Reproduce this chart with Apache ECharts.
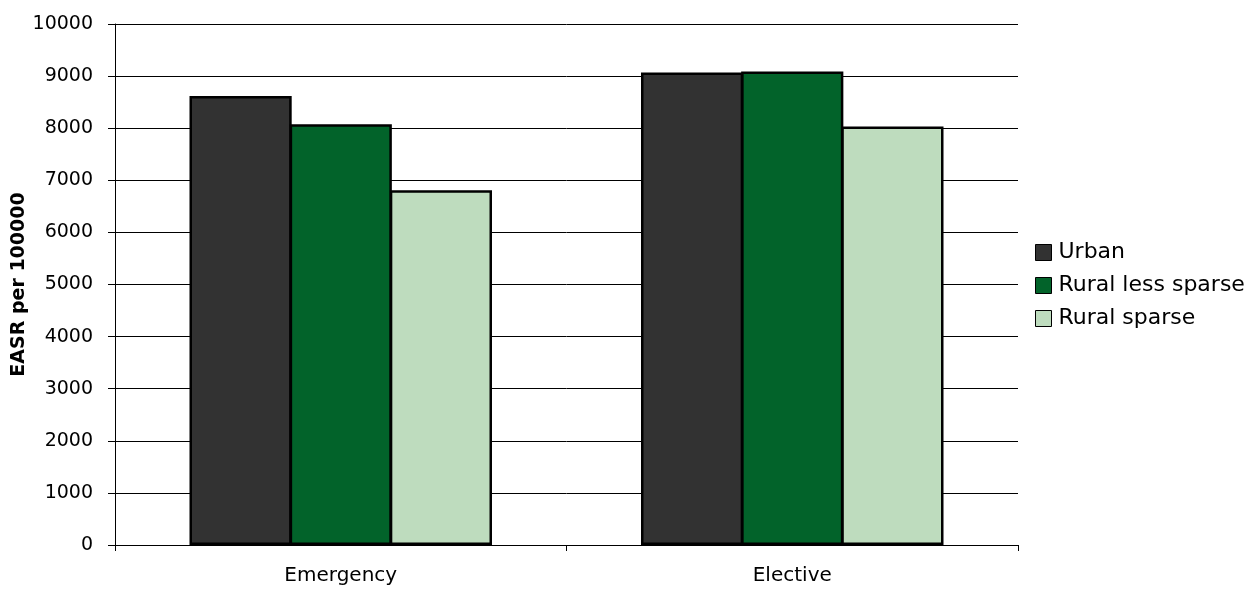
<!DOCTYPE html>
<html>
<head>
<meta charset="utf-8">
<script src="https://cdn.jsdelivr.net/npm/echarts@6/dist/echarts.min.js"></script>
<style>
  html, body { margin: 0; padding: 0; background: #ffffff; }
  #chart { width: 1259px; height: 590px; }
</style>
</head>
<body>
<div id="chart"></div>
<script>
// Admission type groups along the x axis
const categories = ['Emergency', 'Elective'];

// Age-standardised rates per 100000 by settlement type
const seriesNames = ['Urban', 'Rural less sparse', 'Rural sparse'];
const urban = [8620, 9070];
const ruralLessSparse = [8075, 9090];
const ruralSparse = [6810, 8035];

const colors = ['#323232', '#02632A', '#BEDCBE'];
const values = [urban, ruralLessSparse, ruralSparse];

const FONT = '"DejaVu Sans", Verdana, sans-serif';

const chart = echarts.init(document.getElementById('chart'), null, { renderer: 'canvas' });

chart.setOption({
  animation: false,
  backgroundColor: '#ffffff',
  textStyle: { fontFamily: FONT, color: '#000' },
  grid: { left: 115, right: 241, top: 24, bottom: 45, containLabel: false, outerBoundsMode: 'none' },
  legend: {
    orient: 'vertical',
    left: 1030,
    top: 236,
    itemWidth: 16,
    itemHeight: 16,
    itemGap: 10,
    icon: 'rect',
    itemStyle: { borderColor: '#000', borderWidth: 1 },
    textStyle: { fontFamily: FONT, fontSize: 22, color: '#000', lineHeight: 23, padding: [0, 0, 0, 2] },
    data: seriesNames
  },
  xAxis: {
    type: 'category',
    data: categories,
    axisLine: { lineStyle: { color: '#000', width: 1 } },
    axisTick: { show: true, length: 6, alignWithLabel: false, lineStyle: { color: '#000' } },
    axisLabel: { fontFamily: FONT, fontSize: 20, color: '#000', margin: 21 }
  },
  yAxis: {
    type: 'value',
    min: 0,
    max: 10000,
    interval: 1000,
    name: 'EASR per 100000',
    nameLocation: 'middle',
    nameRotate: 90,
    nameGap: 86,
    nameMoveOverlap: false,
    nameTextStyle: { fontFamily: FONT, fontSize: 19, fontWeight: 'bold', color: '#000' },
    axisLine: { show: true, lineStyle: { color: '#000', width: 1 } },
    axisTick: { show: true, length: 7, lineStyle: { color: '#000' } },
    axisLabel: { fontFamily: FONT, fontSize: 19, color: '#000', margin: 22, formatter: v => String(v) },
    splitLine: { show: true, lineStyle: { color: '#000', width: 1 } }
  },
  series: seriesNames.map((name, i) => ({
    name: name,
    type: 'bar',
    data: values[i],
    barGap: '-2%',
    barCategoryGap: '33%',
    itemStyle: { color: colors[i], borderColor: '#000', borderWidth: 2.5 }
  }))
});
</script>
</body>
</html>
